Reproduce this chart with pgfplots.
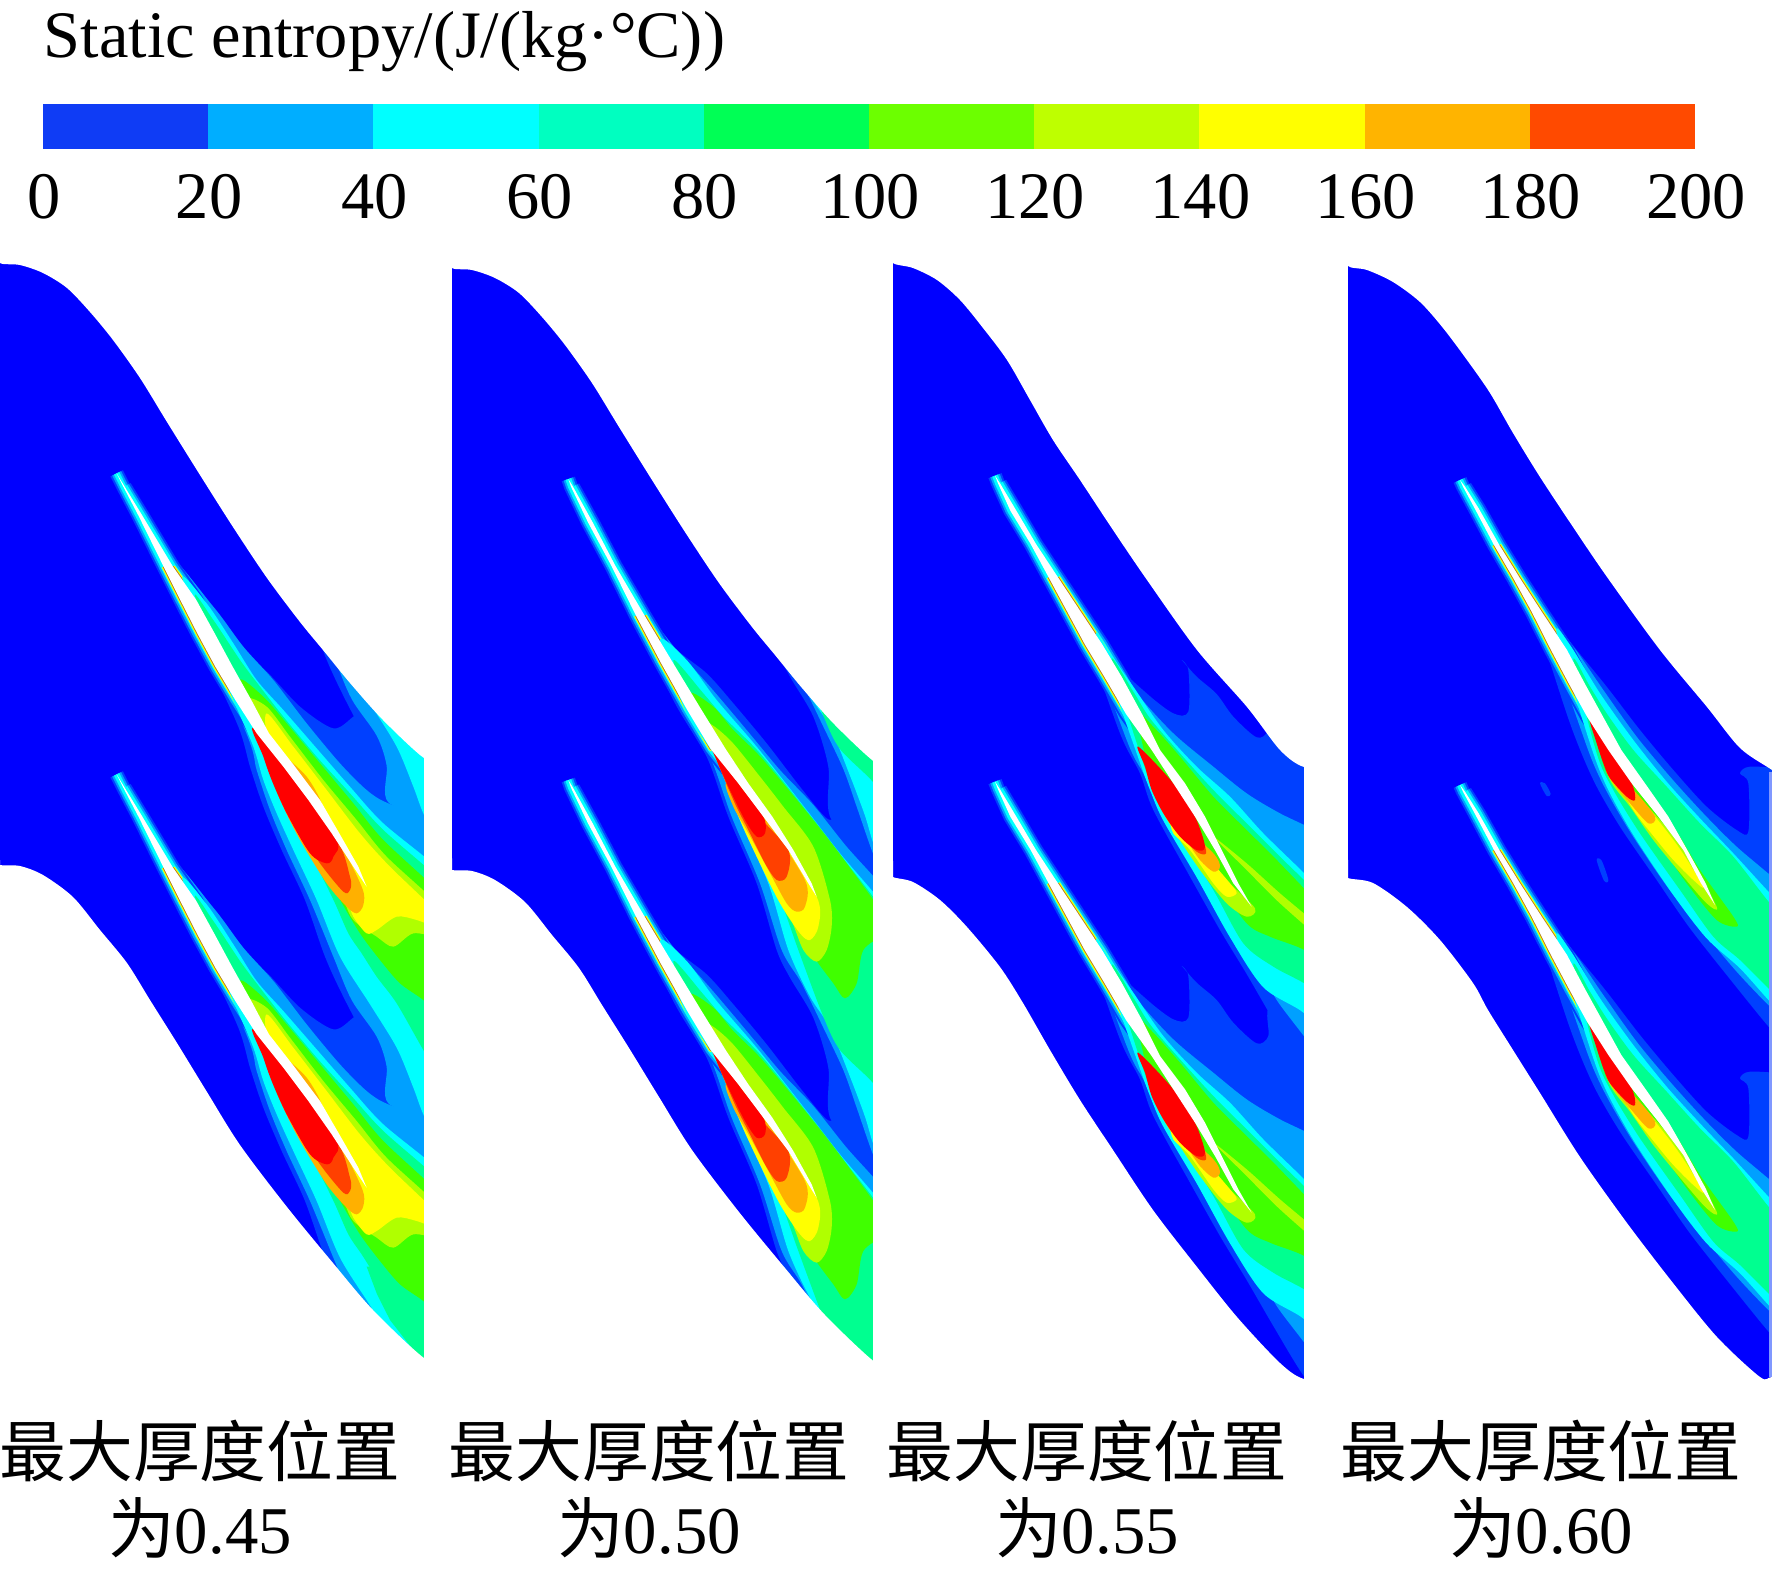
\documentclass[border=0pt]{standalone}
\usepackage{fontspec}
\usepackage{pgfplots}
\usepackage{pgfplotstable}
\pgfplotsset{compat=1.18}
\setmainfont{Liberation Serif}
\newfontfamily\cjk{Noto Sans CJK SC}

% field levels
\definecolor{lvA}{HTML}{0040FF}\definecolor{lvB}{HTML}{00A0FF}\definecolor{lvC}{HTML}{00FFFF}
\definecolor{lvD}{HTML}{00FF90}\definecolor{lvE}{HTML}{40FF00}\definecolor{lvF}{HTML}{B0FF00}
\definecolor{lvG}{HTML}{FFFF00}\definecolor{lvH}{HTML}{FFB000}\definecolor{lvI}{HTML}{FF4000}
\definecolor{lvJ}{HTML}{FF0000}\definecolor{lvK}{HTML}{0000FF}\definecolor{lvL}{HTML}{B08020}
\definecolor{lvM}{HTML}{8098FF}
% colour bar
\definecolor{bA}{HTML}{0F3CF5}\definecolor{bB}{HTML}{00AEFF}\definecolor{bC}{HTML}{00FFFF}
\definecolor{bD}{HTML}{00FFC0}\definecolor{bE}{HTML}{00FF55}\definecolor{bF}{HTML}{6CFF00}
\definecolor{bG}{HTML}{BEFF00}\definecolor{bH}{HTML}{FFFF00}\definecolor{bI}{HTML}{FFB400}
\definecolor{bJ}{HTML}{FF4A00}

\newcommand{\T}[2]{\pgfplotstableread[row sep=\\]{x y\\ #2}#1}

% outlines, in pixels
\T\tTopA{0 250\\0 263\\20 265\\43 273\\67 288\\90 312\\113 340\\140 378\\167 422\\200 475\\233 527\\267 578\\300 622\\323 650\\350 683\\383 720\\424 758\\440 758\\440 750\\440 210\\440 200\\430 200\\10 200\\0 200\\}
\T\tBotA{0 860\\0 865\\20 866\\43 875\\73 897\\100 930\\127 963\\150 1000\\177 1043\\207 1092\\240 1145\\287 1207\\333 1263\\373 1310\\424 1358\\440 1358\\440 1370\\440 1563\\440 1573\\430 1573\\10 1573\\0 1573\\0 1563\\}
\T\tTopC{893 250\\893 263\\913 268\\937 280\\960 300\\983 328\\1007 360\\1030 400\\1053 440\\1080 480\\1113 530\\1147 580\\1197 650\\1247 707\\1280 750\\1304 767\\1335 767\\1335 757\\1335 250\\1335 240\\1325 240\\903 240\\893 240\\}
\T\tBotC{893 870\\893 877\\913 882\\940 900\\967 927\\1000 967\\1023 1003\\1050 1050\\1080 1100\\1113 1150\\1153 1210\\1197 1267\\1237 1317\\1280 1363\\1304 1379\\1335 1379\\1335 1390\\1335 1563\\1335 1573\\1325 1573\\903 1573\\893 1573\\893 1563\\}
\T\tTopD{1348 250\\1348 266\\1367 270\\1393 282\\1420 302\\1443 328\\1467 360\\1490 393\\1513 433\\1540 477\\1573 527\\1607 577\\1660 650\\1707 707\\1740 748\\1772 770\\1800 790\\1810 790\\1810 780\\1810 250\\1810 240\\1800 240\\1358 240\\1348 240\\}
\T\tBotD{1348 870\\1348 878\\1373 883\\1407 907\\1440 940\\1473 983\\1488 1010\\1513 1050\\1540 1093\\1580 1157\\1627 1223\\1673 1283\\1717 1337\\1760 1377\\1772 1377\\1800 1377\\1810 1377\\1810 1390\\1810 1563\\1810 1573\\1800 1573\\1358 1573\\1348 1573\\1348 1563\\}

% panel 0.45
\T\tAw{350 -380\\374 -340\\429 -250\\519 -100\\589 0\\644 100\\698 200\\754 300\\807 400\\885 500\\960 600\\1018 700\\1075 800\\1100 860\\1060 800\\995 700\\925 600\\850 500\\770 400\\706 300\\646 200\\592 100\\541 0\\491 -100\\417 -250\\370 -340\\}
\T\tAx{374 -340\\429 -250\\519 -100\\589 0\\644 100\\698 200\\754 300\\807 400\\770 400\\706 300\\646 200\\592 100\\541 0\\491 -100\\417 -250\\370 -340\\350 -380\\}
\T\tAy{519 -100\\589 0\\644 100\\698 200\\754 300\\807 400\\770 400\\706 300\\646 200\\592 100\\541 0\\491 -100\\}
\T\tAa{462 -200\\600 -10\\700 135\\800 215\\900 320\\1000 385\\1060 350\\1100 320\\1280 320\\1320 320\\1320 360\\1320 1710\\1320 1750\\1150 1420\\1035 1200\\975 1070\\915 900\\845 750\\790 620\\750 500\\715 380\\610 150\\520 -70\\}
\T\tAb{509 -120\\640 20\\730 140\\820 240\\920 370\\1020 490\\1100 570\\1165 610\\1320 660\\1320 700\\1320 1520\\1320 1560\\1165 1510\\1160 1400\\1130 1310\\1055 1200\\1000 1070\\930 900\\860 750\\810 630\\770 510\\735 390\\}
\T\tAc{548 -60\\620 10\\700 130\\770 240\\850 330\\950 445\\1050 560\\1150 670\\1320 810\\1320 850\\1320 1600\\1320 1640\\1270 1543\\1240 1463\\1190 1343\\1110 1213\\1020 1070\\950 900\\880 750\\830 640\\790 540\\760 440\\700 300\\}
\T\tAd{589 0\\640 60\\720 180\\780 260\\850 350\\950 470\\1050 580\\1150 690\\1320 840\\1320 880\\1320 1390\\1320 1430\\1270 1350\\1190 1210\\1130 1130\\1085 1060\\1045 1000\\1000 899\\930 760\\860 640\\815 540\\785 440\\}
\T\tAp{1100 2000\\1130 2080\\1170 2160\\1240 2250\\1300 2300\\1300 2000\\}
\T\tAe{720 240\\790 290\\860 370\\960 490\\1060 610\\1150 720\\1320 880\\1320 920\\1320 1210\\1320 1250\\1270 1200\\1200 1150\\1140 1080\\1080 1000\\1020 899\\945 760\\875 640\\825 540\\795 440\\770 380\\}
\T\tAf{740 300\\800 320\\870 410\\970 540\\1070 660\\1160 770\\1320 920\\1320 970\\1320 1010\\1240 1000\\1180 1040\\1130 1010\\1060 960\\1030 899\\960 760\\885 640\\835 540\\800 440\\}
\T\tAg{800 340\\880 440\\980 570\\1080 700\\1170 800\\1320 945\\1320 965\\1320 985\\1250 960\\1190 950\\1130 990\\1100 1000\\1060 950\\1040 899\\970 760\\895 640\\845 540\\805 440\\}
\T\tAh{800 440\\1000 700\\1085 860\\1090 915\\1070 940\\1040 920\\980 850\\900 720\\850 620\\815 530\\}
\T\tAi{850 470\\920 530\\965 610\\955 640\\900 570\\}
\T\tAj{790 440\\1000 700\\1050 830\\1050 870\\1030 875\\960 790\\890 680\\850 600\\820 530\\}
\T\tAk{765 390\\1000 700\\1000 770\\980 790\\930 760\\860 640\\815 540\\790 470\\}

% panel 0.50
\T\tBw{385 -513\\399 -490\\458 -383\\526 -253\\614 -103\\698 37\\783 177\\857 297\\925 400\\997 500\\1060 600\\1115 700\\1130 740\\1105 700\\1045 600\\970 500\\895 400\\812 297\\740 177\\662 37\\588 -103\\514 -253\\444 -383\\393 -490\\}
\T\tBx{399 -490\\458 -383\\526 -253\\614 -103\\698 37\\783 177\\857 297\\925 400\\895 400\\812 297\\740 177\\662 37\\588 -103\\514 -253\\444 -383\\393 -490\\385 -513\\}
\T\tBy{614 -103\\698 37\\783 177\\857 297\\812 297\\740 177\\662 37\\588 -103\\}
\T\tBa{573 -180\\690 -20\\800 70\\880 160\\980 280\\1080 410\\1160 505\\1200 500\\1300 500\\1335 500\\1335 540\\1335 1480\\1335 1520\\1175 1413\\1165 1253\\1120 1103\\1050 983\\1010 900\\950 700\\865 500\\800 320\\700 150\\610 -70\\}
\T\tBb{618 -103\\710 0\\810 110\\920 240\\1020 360\\1120 465\\1220 590\\1335 720\\1335 760\\1335 1560\\1335 1600\\1295 1503\\1250 1373\\1210 1260\\1150 1133\\1085 1000\\1025 900\\960 700\\875 500\\810 320\\720 170\\}
\T\tBc{660 -30\\740 30\\830 150\\950 290\\1100 480\\1200 610\\1335 770\\1335 810\\1335 1520\\1335 1560\\1300 1483\\1275 1400\\1230 1280\\1170 1133\\1110 1040\\1045 900\\985 700\\895 500\\825 320\\740 190\\}
\T\tBd{700 30\\790 130\\850 200\\960 310\\1110 495\\1210 625\\1335 790\\1335 830\\1335 1330\\1335 1370\\1300 1300\\1200 1200\\1150 1100\\1075 900\\1010 720\\915 520\\845 340\\770 210\\}
\T\tBe{750 130\\820 170\\880 240\\970 330\\1120 510\\1220 640\\1335 800\\1335 820\\1335 850\\1270 900\\1250 1000\\1215 1045\\1180 1000\\1110 900\\1030 720\\930 520\\860 340\\800 250\\}
\T\tBf{800 220\\870 270\\960 380\\1030 470\\1120 590\\1170 750\\1175 830\\1160 900\\1130 935\\1090 900\\1050 800\\950 580\\880 420\\830 330\\}
\T\tBg{870 420\\1000 540\\1130 740\\1135 830\\1110 870\\1080 850\\1020 760\\950 620\\900 510\\}
\T\tBh{860 400\\970 500\\1095 690\\1095 770\\1070 785\\1040 760\\985 660\\920 540\\880 470\\}
\T\tBi{830 320\\950 490\\1045 600\\1040 680\\1010 690\\975 640\\925 540\\880 450\\}
\T\tBj{800 260\\895 400\\970 500\\975 550\\950 560\\915 510\\870 420\\825 320\\}

% panel 0.55
\T\tCw{345 -523\\360 -500\\409 -418\\468 -318\\534 -218\\600 -118\\666 -18\\726 82\\786 192\\840 300\\915 400\\975 500\\1025 600\\1075 700\\1115 770\\1060 700\\1005 600\\945 500\\880 400\\815 300\\738 192\\674 82\\614 -18\\560 -118\\506 -218\\452 -318\\391 -418\\354 -500\\}
\T\tCx{360 -500\\409 -418\\468 -318\\534 -218\\600 -118\\666 -18\\726 82\\786 192\\840 300\\815 300\\738 192\\674 82\\614 -18\\560 -118\\506 -218\\452 -318\\391 -418\\354 -500\\345 -523\\}
\T\tCy{534 -218\\600 -118\\666 -18\\726 82\\786 192\\840 300\\815 300\\738 192\\674 82\\614 -18\\560 -118\\506 -218\\}
\T\tCa{560 -185\\700 30\\800 130\\880 190\\925 185\\925 60\\905 30\\950 80\\1010 132\\1060 200\\1130 262\\1165 240\\1170 150\\1300 150\\1340 150\\1340 190\\1340 1280\\1340 1320\\1273 1262\\1180 1110\\1100 972\\1020 840\\930 680\\820 480\\780 370\\720 250\\610 -60\\}
\T\tCb{602 -118\\700 30\\770 130\\880 250\\1000 350\\1100 430\\1200 490\\1340 560\\1340 600\\1340 1210\\1340 1250\\1273 1160\\1190 1050\\1150 972\\1050 830\\950 670\\840 470\\790 370\\740 270\\}
\T\tCc{650 -40\\690 10\\760 110\\850 240\\950 350\\1050 440\\1150 550\\1273 670\\1340 740\\1340 780\\1340 1140\\1340 1180\\1273 1090\\1150 1012\\1050 862\\950 682\\850 512\\810 420\\770 310\\}
\T\tCd{695 30\\760 125\\810 205\\900 310\\1000 420\\1100 520\\1200 620\\1340 760\\1340 800\\1340 1010\\1340 1050\\1273 1000\\1180 950\\1090 880\\1000 720\\900 560\\835 450\\790 340\\}
\T\tCe{770 190\\820 230\\900 320\\1000 440\\1100 540\\1200 640\\1340 790\\1340 820\\1340 930\\1340 960\\1273 900\\1170 860\\1100 820\\1000 680\\920 570\\850 460\\810 370\\}
\T\tCf{820 410\\940 570\\1040 690\\1125 775\\1100 800\\1040 760\\960 660\\880 540\\840 470\\}
\T\tCg{1000 560\\1100 660\\1200 760\\1340 880\\1340 850\\1200 730\\1100 640\\}
\T\tCh{880 520\\980 620\\1050 700\\1070 730\\1040 740\\1000 700\\930 600\\880 550\\}
\T\tCi{900 520\\1000 610\\1020 650\\1000 665\\960 630\\920 570\\}
\T\tCj{850 440\\960 560\\978 610\\950 605\\900 550\\}
\T\tCk{775 290\\880 400\\945 500\\975 590\\950 600\\900 560\\850 490\\815 420\\795 350\\}

% panel 0.60
\T\tDw{360 -510\\375 -490\\416 -425\\478 -315\\540 -215\\605 -115\\681 0\\734 100\\789 200\\844 300\\915 400\\985 500\\1042 600\\1097 700\\1125 765\\1083 700\\1030 600\\955 500\\875 400\\805 300\\741 200\\686 100\\633 0\\575 -115\\520 -215\\462 -315\\404 -425\\369 -490\\}
\T\tDx{375 -490\\416 -425\\478 -315\\540 -215\\605 -115\\681 0\\734 100\\789 200\\844 300\\805 300\\741 200\\686 100\\633 0\\575 -115\\520 -215\\462 -315\\404 -425\\369 -490\\360 -510\\}
\T\tDy{478 -315\\540 -215\\605 -115\\681 0\\734 100\\789 200\\844 300\\805 300\\741 200\\686 100\\633 0\\575 -115\\520 -215\\462 -315\\}
\T\tDa{575 -165\\710 0\\800 110\\900 240\\1000 360\\1100 470\\1190 540\\1225 545\\1225 400\\1200 370\\1230 350\\1340 360\\1340 400\\1340 1140\\1340 1180\\1290 1135\\1180 1000\\1050 835\\950 690\\840 530\\760 390\\690 220\\600 -60\\}
\T\tDb{607 -115\\700 -10\\790 120\\890 260\\990 380\\1090 490\\1190 590\\1340 720\\1340 760\\1340 1080\\1340 1110\\1290 1070\\1190 965\\1085 840\\985 715\\870 545\\785 395\\730 260\\}
\T\tDc{650 -50\\690 -15\\780 130\\880 270\\980 395\\1080 505\\1180 610\\1290 730\\1340 780\\1340 820\\1340 1070\\1340 1100\\1290 1055\\1200 955\\1100 865\\1000 735\\880 555\\800 410\\750 280\\}
\T\tDd{700 30\\750 110\\800 190\\880 300\\980 410\\1080 520\\1180 620\\1290 760\\1340 800\\1340 840\\1340 1040\\1340 1070\\1290 1020\\1200 930\\1120 860\\1020 720\\900 550\\820 420\\770 310\\}
\T\tDe{770 250\\840 320\\920 440\\1000 530\\1080 660\\1180 800\\1190 830\\1130 810\\1040 700\\950 570\\860 440\\800 370\\}
\T\tDf{780 280\\860 400\\960 510\\1040 610\\1130 770\\1100 760\\1030 680\\940 570\\870 470\\810 390\\}
\T\tDg{820 370\\920 470\\1015 590\\1090 710\\1060 690\\1000 630\\950 570\\880 480\\}
\T\tDh{800 360\\880 420\\945 500\\925 520\\870 460\\820 400\\}
\T\tDj{750 210\\810 300\\875 400\\885 450\\860 440\\810 385\\790 340\\770 280\\}
\T\tDm{600 400\\615 400\\632 432\\620 438\\}
\T\tDn{770 630\\785 632\\805 690\\792 692\\}

% one contour level for the blades of a passage row
\newcommand{\lay}[2]{%
  \addplot[fill=#2,draw=none,smooth cycle,tension=.5] table[x expr=\thisrow{x}/3+\ox,y expr=\thisrow{y}/3+\oy-\per] {#1};
  \addplot[fill=#2,draw=none,smooth cycle,tension=.5] table[x expr=\thisrow{x}/3+\ox,y expr=\thisrow{y}/3+\oy] {#1};
  \addplot[fill=#2,draw=none,smooth cycle,tension=.5] table[x expr=\thisrow{x}/3+\ox,y expr=\thisrow{y}/3+\oy+\per] {#1};
}
\newcommand{\two}[2]{%
  \addplot[#2] table[x expr=\thisrow{x}/3+\ox,y expr=\thisrow{y}/3+\oy] {#1};
  \addplot[#2] table[x expr=\thisrow{x}/3+\ox,y expr=\thisrow{y}/3+\oy+\per] {#1};
}
\newcommand{\halo}[2]{%
  \two{#1}{draw=lvA,line width=1.4mm,line join=round}
  \two{#1}{draw=lvB,line width=1.0mm,line join=round}
  \two{#1}{draw=lvC,line width=.6mm,line join=round}
  \two{#2}{draw=lvG,line width=.4mm,line join=round}
  \two{#2}{draw=lvL,line width=.18mm,line join=round}
}
\newcommand{\base}[2]{\addplot[fill=lvK,draw=none] coordinates {(#1,250) (#2,250) (#2,1400) (#1,1400)};}
\newcommand{\strip}[2]{\addplot[fill=white,draw=none] coordinates {(#1,240) (#2,240) (#2,1573) (#1,1573)};}
\newcommand{\mask}[1]{\addplot[fill=white,draw=none,smooth cycle,tension=.5] table {#1};}
\newcommand{\lab}[2]{\node[anchor=base,inner sep=0,font=\fontsize{19}{23}\selectfont,align=center] at (axis cs:#1,1476) {{\cjk 最大厚度位置}};
  \node[anchor=base,inner sep=0,font=\fontsize{19}{23}\selectfont] at (axis cs:#1,1553) {{\cjk 为}#2};}

\begin{document}
\begin{tikzpicture}
\begin{axis}[
    hide axis, scale only axis,
    width=177.2mm, height=157.3mm,
    xmin=0, xmax=1772, ymin=0, ymax=1573,
    y dir=reverse, clip=true,
  ]
  \addplot[fill=white,draw=none] coordinates {(0,0) (1772,0) (1772,1573) (0,1573)};

  % 0.45
  \def\ox{0}\def\oy{600}\def\per{301}
  \base{0}{424}
  \lay\tAa{lvA}\lay\tAb{lvB}
  \halo\tAx\tAy
  \lay\tAc{lvC}\lay\tAd{lvD}
  \addplot[fill=lvD,draw=none] table[x expr=\thisrow{x}/3+\ox,y expr=\thisrow{y}/3+\oy] {\tAp};
  \lay\tAe{lvE}\lay\tAf{lvF}\lay\tAg{lvG}
  \two\tAh{fill=lvH,draw=none,smooth cycle}\two\tAi{fill=lvH,draw=none,smooth cycle}
  \two\tAj{fill=lvI,draw=none,smooth cycle}\two\tAk{fill=lvJ,draw=none,smooth cycle}
  \two\tAw{fill=white,draw=none}
  \mask\tTopA\mask\tBotA\strip{424}{446}

  % 0.50
  \def\ox{440}\def\oy{650}\def\per{301}
  \base{452}{873}
  \lay\tBa{lvA}\lay\tBb{lvB}
  \halo\tBx\tBy
  \lay\tBc{lvC}\lay\tBd{lvD}\lay\tBe{lvE}
  \two\tBf{fill=lvF,draw=none,smooth cycle}\two\tBg{fill=lvG,draw=none,smooth cycle}
  \two\tBh{fill=lvH,draw=none,smooth cycle}\two\tBi{fill=lvI,draw=none,smooth cycle}
  \two\tBj{fill=lvJ,draw=none,smooth cycle}
  \two\tBw{fill=white,draw=none}
  \addplot[fill=white,draw=none,smooth cycle,tension=.5] table[x expr=\thisrow{x}+452,y expr=\thisrow{y}+5] {\tTopA};
  \addplot[fill=white,draw=none,smooth cycle,tension=.5] table[x expr=\thisrow{x}+452,y expr=\thisrow{y}+5] {\tBotA};
  \strip{873}{890}

  % 0.55
  \def\ox{880}\def\oy{650}\def\per{306}
  \base{893}{1304}
  \lay\tCa{lvA}\lay\tCb{lvB}
  \halo\tCx\tCy
  \lay\tCc{lvC}\lay\tCd{lvD}\lay\tCe{lvE}
  \two\tCg{fill=lvF,draw=none,smooth cycle}\two\tCf{fill=lvF,draw=none,smooth cycle}
  \two\tCh{fill=lvG,draw=none,smooth cycle}\two\tCi{fill=lvH,draw=none,smooth cycle}
  \two\tCj{fill=lvI,draw=none,smooth cycle}\two\tCk{fill=lvJ,draw=none,smooth cycle}
  \two\tCw{fill=white,draw=none}
  \mask\tTopC\mask\tBotC\strip{1304}{1335}

  % 0.60
  \def\ox{1340}\def\oy{650}\def\per{305}
  \base{1348}{1772}
  \lay\tDa{lvA}\lay\tDb{lvB}
  \halo\tDx\tDy
  \lay\tDc{lvC}\lay\tDd{lvD}
  \two\tDe{fill=lvE,draw=none,smooth cycle}\two\tDf{fill=lvF,draw=none,smooth cycle}
  \two\tDg{fill=lvG,draw=none,smooth cycle}\two\tDh{fill=lvH,draw=none,smooth cycle}
  \two\tDj{fill=lvJ,draw=none,smooth cycle}
  \two\tDw{fill=white,draw=none}
  \addplot[fill=lvA,draw=none,smooth cycle] table[x expr=\thisrow{x}/3+\ox,y expr=\thisrow{y}/3+\oy] {\tDm};
  \addplot[fill=lvA,draw=none,smooth cycle] table[x expr=\thisrow{x}/3+\ox,y expr=\thisrow{y}/3+\oy] {\tDn};
  \mask\tTopD\mask\tBotD
  \addplot[fill=lvM,draw=none] coordinates {(1769,772) (1772,772) (1772,1377) (1769,1377)};

  \node[anchor=base west,inner sep=0,font=\fontsize{18.9}{23}\selectfont] at (axis cs:43,57) {Static entropy/(J/(kg·°C))};
  \lab{200}{0.45}\lab{649}{0.50}\lab{1087}{0.55}\lab{1541}{0.60}
\end{axis}

\begin{axis}[
    at={(4.3mm,142.4mm)}, anchor=south west,
    scale only axis, width=165.2mm, height=4.5mm,
    xmin=0, xmax=200, ymin=0, ymax=1,
    axis line style={draw=none}, major tick length=0pt,
    ytick=\empty, xtick={0,20,...,200},
    /pgf/number format/assume math mode=true,
    xticklabel style={font=\fontsize{18.9}{23}\selectfont, inner sep=0pt, yshift=-2.5mm, xshift=.1mm},
  ]
  \addplot[fill=bA,draw=none] coordinates {(0,0) (20,0) (20,1) (0,1)};
  \addplot[fill=bB,draw=none] coordinates {(20,0) (40,0) (40,1) (20,1)};
  \addplot[fill=bC,draw=none] coordinates {(40,0) (60,0) (60,1) (40,1)};
  \addplot[fill=bD,draw=none] coordinates {(60,0) (80,0) (80,1) (60,1)};
  \addplot[fill=bE,draw=none] coordinates {(80,0) (100,0) (100,1) (80,1)};
  \addplot[fill=bF,draw=none] coordinates {(100,0) (120,0) (120,1) (100,1)};
  \addplot[fill=bG,draw=none] coordinates {(120,0) (140,0) (140,1) (120,1)};
  \addplot[fill=bH,draw=none] coordinates {(140,0) (160,0) (160,1) (140,1)};
  \addplot[fill=bI,draw=none] coordinates {(160,0) (180,0) (180,1) (160,1)};
  \addplot[fill=bJ,draw=none] coordinates {(180,0) (200,0) (200,1) (180,1)};
\end{axis}
\end{tikzpicture}
\end{document}
